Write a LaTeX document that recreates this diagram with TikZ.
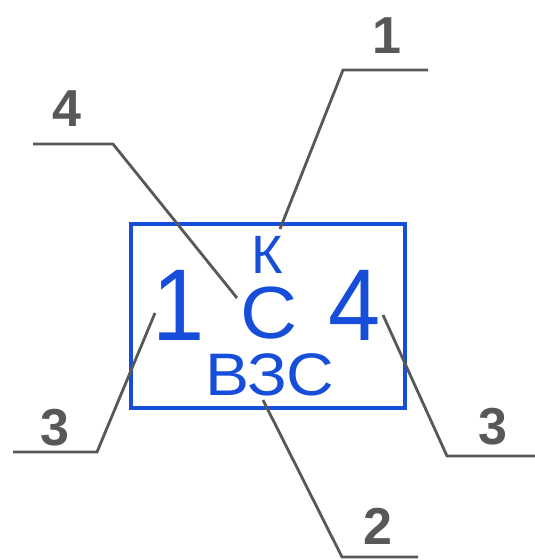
\documentclass[tikz,border=0pt]{standalone}
\usepackage{fontspec}
\setmainfont{Liberation Sans}
\usepackage{tikz}
\usetikzlibrary{positioning}
\definecolor{stampblue}{RGB}{22,78,218}
\definecolor{leadgray}{RGB}{88,88,88}

\newcommand{\fs}[1]{\fontsize{#1}{#1}\selectfont}

\begin{document}
\begin{tikzpicture}[x=1pt,y=-1pt,
    stamptext/.style={text=stampblue,inner sep=0pt},
    leader/.style={draw=leadgray,line width=2.8pt},
    callout/.style={text=leadgray,inner sep=0pt,font=\fs{52}\bfseries}]
 \useasboundingbox (0,0) rectangle (535,560);

 % stamp
 \node[draw=stampblue,line width=4pt,minimum width=274pt,minimum height=184pt,inner sep=0pt] (box) at (268,316) {};
 \node[stamptext,font=\fs{54}] (kk) at (267,255) {К};
 \node[stamptext,font=\fs{102},xscale=0.92] (one) at (179,305) {1};
 \node[stamptext,font=\fs{74},xscale=1.07] (cc) at (269,313) {С};
 \node[stamptext,font=\fs{60},xscale=1.1] (vzs) at (270,375) {ВЗС};
 \node[stamptext,font=\fs{102},xscale=0.92] (four) at (355,305) {4};

 % callouts
 \node[callout] (l1) at (387,36) {1};
 \node[callout] (l4) at (67,109) {4};
 \node[callout] (l3a) at (55,428) {3};
 \node[callout] (l3b) at (493,427) {3};
 \node[callout] (l2) at (378,526) {2};

 \coordinate (t1) at (280,229); \coordinate (k1) at (343,70); \coordinate (e1) at (428,70);
 \coordinate (t4) at (237,298); \coordinate (k4) at (113,144); \coordinate (e4) at (33,144);
 \coordinate (t3a) at (155,313); \coordinate (k3a) at (97,452); \coordinate (e3a) at (13,452);
 \coordinate (t3b) at (383,315); \coordinate (k3b) at (447,456); \coordinate (e3b) at (535,456);
 \coordinate (t2) at (263,400); \coordinate (k2) at (342,557); \coordinate (e2) at (418,557);

 \draw[leader] (t1) -- (k1) -- (e1);
 \draw[leader] (t4) -- (k4) -- (e4);
 \draw[leader] (t3a) -- (k3a) -- (e3a);
 \draw[leader] (t3b) -- (k3b) -- (e3b);
 \draw[leader] (t2) -- (k2) -- (e2);
\end{tikzpicture}
\end{document}
